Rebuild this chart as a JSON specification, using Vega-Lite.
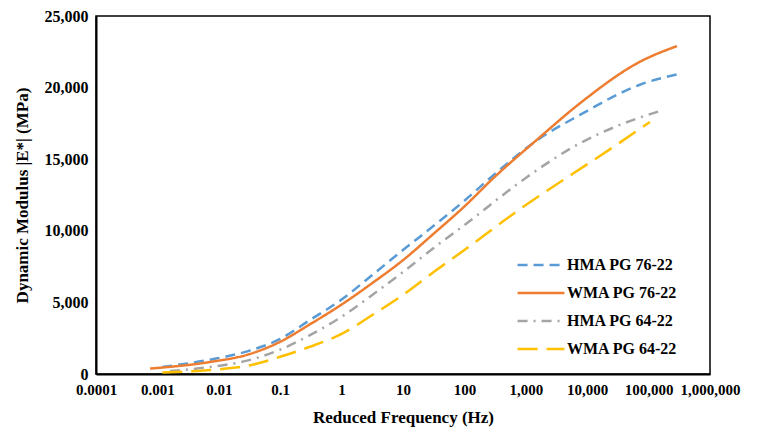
{
  "$schema": "https://vega.github.io/schema/vega-lite/v6.json",
  "autosize": {"type": "none"},
  "padding": {"left": 96, "top": 16, "right": 54, "bottom": 58},
  "width": 614,
  "height": 358,
  "background": "white",
  "config": {
    "view": {"stroke": "black", "strokeWidth": 1.5},
    "font": "Liberation Serif"
  },
  "data": {
    "values": [
      {"series": "HMA PG 76-22", "freq": 0.0012, "modulus": 490},
      {"series": "HMA PG 76-22", "freq": 0.0072, "modulus": 1000},
      {"series": "HMA PG 76-22", "freq": 0.03, "modulus": 1600},
      {"series": "HMA PG 76-22", "freq": 0.1, "modulus": 2450},
      {"series": "HMA PG 76-22", "freq": 0.3, "modulus": 3750},
      {"series": "HMA PG 76-22", "freq": 1, "modulus": 5200},
      {"series": "HMA PG 76-22", "freq": 3.16, "modulus": 6910},
      {"series": "HMA PG 76-22", "freq": 10, "modulus": 8660},
      {"series": "HMA PG 76-22", "freq": 31.6, "modulus": 10350},
      {"series": "HMA PG 76-22", "freq": 100, "modulus": 12100},
      {"series": "HMA PG 76-22", "freq": 300, "modulus": 13900},
      {"series": "HMA PG 76-22", "freq": 1500, "modulus": 16300},
      {"series": "HMA PG 76-22", "freq": 7600, "modulus": 18090},
      {"series": "HMA PG 76-22", "freq": 72000, "modulus": 20200},
      {"series": "HMA PG 76-22", "freq": 350000, "modulus": 21000},
      {"series": "WMA PG 76-22", "freq": 0.00076, "modulus": 380},
      {"series": "WMA PG 76-22", "freq": 0.0072, "modulus": 840},
      {"series": "WMA PG 76-22", "freq": 0.03, "modulus": 1360},
      {"series": "WMA PG 76-22", "freq": 0.1, "modulus": 2250},
      {"series": "WMA PG 76-22", "freq": 0.3, "modulus": 3450},
      {"series": "WMA PG 76-22", "freq": 1, "modulus": 4850},
      {"series": "WMA PG 76-22", "freq": 3.16, "modulus": 6350},
      {"series": "WMA PG 76-22", "freq": 10, "modulus": 7950},
      {"series": "WMA PG 76-22", "freq": 31.6, "modulus": 9800},
      {"series": "WMA PG 76-22", "freq": 100, "modulus": 11700},
      {"series": "WMA PG 76-22", "freq": 300, "modulus": 13700},
      {"series": "WMA PG 76-22", "freq": 1500, "modulus": 16340},
      {"series": "WMA PG 76-22", "freq": 7600, "modulus": 18900},
      {"series": "WMA PG 76-22", "freq": 72000, "modulus": 21800},
      {"series": "WMA PG 76-22", "freq": 290000, "modulus": 22900},
      {"series": "HMA PG 64-22", "freq": 0.0016, "modulus": 210},
      {"series": "HMA PG 64-22", "freq": 0.0072, "modulus": 490},
      {"series": "HMA PG 64-22", "freq": 0.03, "modulus": 950},
      {"series": "HMA PG 64-22", "freq": 0.1, "modulus": 1700},
      {"series": "HMA PG 64-22", "freq": 0.3, "modulus": 2700},
      {"series": "HMA PG 64-22", "freq": 1, "modulus": 4000},
      {"series": "HMA PG 64-22", "freq": 3.16, "modulus": 5520},
      {"series": "HMA PG 64-22", "freq": 10, "modulus": 7120},
      {"series": "HMA PG 64-22", "freq": 31.6, "modulus": 8800},
      {"series": "HMA PG 64-22", "freq": 100, "modulus": 10400},
      {"series": "HMA PG 64-22", "freq": 1050, "modulus": 13760},
      {"series": "HMA PG 64-22", "freq": 5900, "modulus": 15850},
      {"series": "HMA PG 64-22", "freq": 30000, "modulus": 17300},
      {"series": "HMA PG 64-22", "freq": 155000, "modulus": 18370},
      {"series": "WMA PG 64-22", "freq": 0.0012, "modulus": 100},
      {"series": "WMA PG 64-22", "freq": 0.0072, "modulus": 280},
      {"series": "WMA PG 64-22", "freq": 0.03, "modulus": 580},
      {"series": "WMA PG 64-22", "freq": 0.1, "modulus": 1200},
      {"series": "WMA PG 64-22", "freq": 0.3, "modulus": 1890},
      {"series": "WMA PG 64-22", "freq": 1, "modulus": 2800},
      {"series": "WMA PG 64-22", "freq": 3.16, "modulus": 4120},
      {"series": "WMA PG 64-22", "freq": 10, "modulus": 5520},
      {"series": "WMA PG 64-22", "freq": 31.6, "modulus": 7120},
      {"series": "WMA PG 64-22", "freq": 100, "modulus": 8660},
      {"series": "WMA PG 64-22", "freq": 1000, "modulus": 11800},
      {"series": "WMA PG 64-22", "freq": 5900, "modulus": 14000},
      {"series": "WMA PG 64-22", "freq": 30000, "modulus": 16000},
      {"series": "WMA PG 64-22", "freq": 105000, "modulus": 17600}
    ]
  },
  "mark": {"type": "line", "strokeWidth": 2.5, "interpolate": "monotone"},
  "encoding": {
    "x": {
      "field": "freq",
      "type": "quantitative",
      "scale": {"type": "log", "domain": [0.0001, 1000000], "nice": false},
      "axis": {
        "title": "Reduced Frequency (Hz)",
        "values": [0.0001, 0.001, 0.01, 0.1, 1, 10, 100, 1000, 10000, 100000, 1000000],
        "format": ",",
        "grid": false,
        "ticks": false,
        "domainColor": "black",
        "domainWidth": 2,
        "labelFont": "Liberation Serif",
        "labelFontWeight": "bold",
        "labelFontSize": 15,
        "labelColor": "black",
        "labelPadding": 8,
        "labelFlush": false,
        "titleFont": "Liberation Serif",
        "titleFontWeight": "bold",
        "titleFontSize": 17,
        "titleColor": "black",
        "titlePadding": 12
      }
    },
    "y": {
      "field": "modulus",
      "type": "quantitative",
      "scale": {"domain": [0, 25000], "nice": false},
      "axis": {
        "title": "Dynamic Modulus |E*| (MPa)",
        "values": [0, 5000, 10000, 15000, 20000, 25000],
        "format": ",.0f",
        "grid": false,
        "ticks": false,
        "domainColor": "black",
        "domainWidth": 2,
        "labelFont": "Liberation Serif",
        "labelFontWeight": "bold",
        "labelFontSize": 16,
        "labelColor": "black",
        "labelPadding": 8,
        "titleFont": "Liberation Serif",
        "titleFontWeight": "bold",
        "titleFontSize": 17,
        "titleColor": "black",
        "titlePadding": 13
      }
    },
    "color": {
      "field": "series",
      "type": "nominal",
      "scale": {
        "domain": ["HMA PG 76-22", "WMA PG 76-22", "HMA PG 64-22", "WMA PG 64-22"],
        "range": ["#5B9BD5", "#ED7D31", "#A5A5A5", "#FFC000"]
      },
      "legend": {
        "title": null,
        "orient": "none",
        "legendX": 432,
        "legendY": 236,
        "symbolType": "M-2,0H2",
        "symbolSize": 550,
        "symbolStrokeWidth": 2.5,
        "labelFont": "Liberation Serif",
        "labelFontWeight": "bold",
        "labelFontSize": 16,
        "labelColor": "black",
        "labelOffset": 13,
        "rowPadding": 7,
        "labelLimit": 200
      }
    },
    "strokeDash": {
      "field": "series",
      "type": "nominal",
      "scale": {
        "domain": ["HMA PG 76-22", "WMA PG 76-22", "HMA PG 64-22", "WMA PG 64-22"],
        "range": [[10, 6], [1, 0], [10, 6, 2, 6], [20, 9]]
      },
      "legend": null
    }
  }
}
